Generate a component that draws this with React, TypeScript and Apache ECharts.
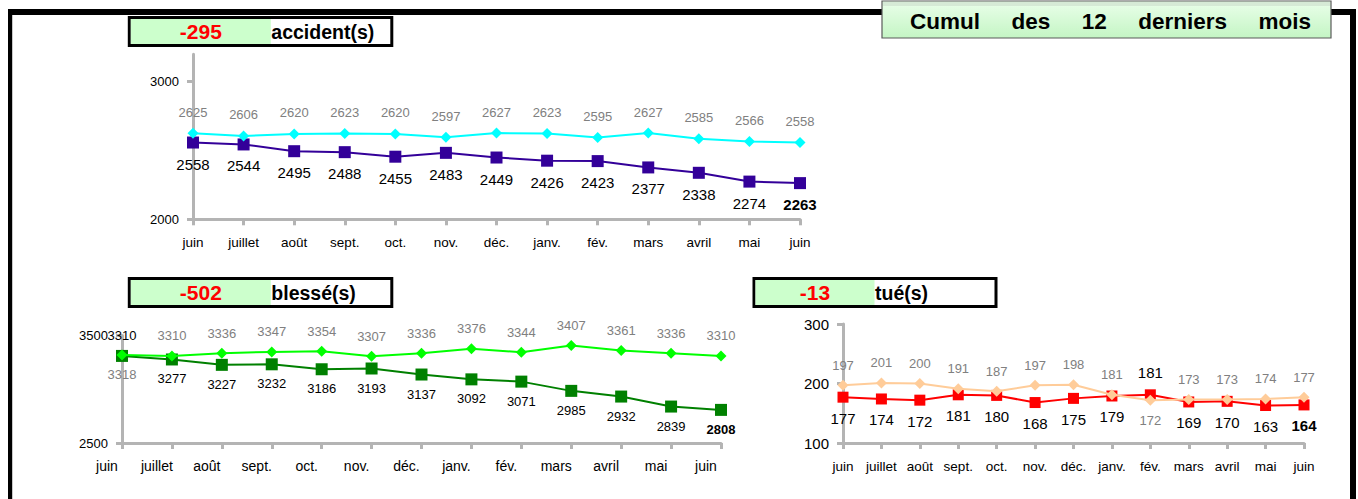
import React, { useEffect, useRef } from 'react';
import * as echarts from 'echarts';

const months = ['juin', 'juillet', 'août', 'sept.', 'oct.', 'nov.', 'déc.', 'janv.', 'fév.', 'mars', 'avril', 'mai', 'juin'];

const accidentsCurrent = [2558, 2544, 2495, 2488, 2455, 2483, 2449, 2426, 2423, 2377, 2338, 2274, 2263];
const accidentsPrior = [2625, 2606, 2620, 2623, 2620, 2597, 2627, 2623, 2595, 2627, 2585, 2566, 2558];

const blessesCurrent = [3310, 3277, 3227, 3232, 3186, 3193, 3137, 3092, 3071, 2985, 2932, 2839, 2808];
const blessesPrior = [3318, 3310, 3336, 3347, 3354, 3307, 3336, 3376, 3344, 3407, 3361, 3336, 3310];

const tuesCurrent = [177, 174, 172, 181, 180, 168, 175, 179, 181, 169, 170, 163, 164];
const tuesPrior = [197, 201, 200, 191, 187, 197, 198, 181, 172, 173, 173, 174, 177];

const accidentTicks = [2000, 3000];
const blesseTicks = [2500, 3500];
const tueTicks = [100, 200, 300];

const titleWords = ['Cumul', 'des', '12', 'derniers', 'mois'];
const accidentUnit = 'accident(s)';
const blesseUnit = 'blessé(s)';
const tueUnit = 'tué(s)';

const FONT = '"Liberation Sans", Arial, Helvetica, sans-serif';
const AXIS_GRAY = '#b4b4b4';
const LABEL_GRAY = '#808080';

function measure(text: string, font: string): number {
  const c = document.createElement('canvas');
  const ctx = c.getContext('2d');
  if (!ctx) return text.length * 12;
  ctx.font = font;
  return ctx.measureText(text).width;
}

function makeXAxis(gridIndex: number, fontSize: number, padRight: number) {
  return {
    type: 'category',
    gridIndex,
    data: months,
    boundaryGap: false,
    axisLine: { show: true, onZero: false, lineStyle: { color: AXIS_GRAY, width: 3 } },
    axisTick: { show: true, length: 6, lineStyle: { color: AXIS_GRAY, width: 3 } },
    axisLabel: {
      interval: 0,
      color: '#000',
      fontSize,
      fontFamily: FONT,
      margin: 16,
      padding: [0, padRight, 0, 0],
    },
    splitLine: { show: false },
  };
}

function makeYAxis(gridIndex: number, min: number, max: number, ticks: number[], fontSize: number) {
  return {
    type: 'value',
    gridIndex,
    min,
    max,
    axisLine: { show: true, onZero: false, lineStyle: { color: AXIS_GRAY, width: 3 } },
    axisTick: { show: true, length: 6, customValues: ticks, lineStyle: { color: AXIS_GRAY, width: 3 } },
    axisLabel: {
      color: '#000',
      fontSize,
      fontFamily: FONT,
      margin: 14,
      customValues: ticks,
      formatter: (v: number) => String(v),
    },
    splitLine: { show: false },
  };
}

function headerBox(x: number, y: number, w: number, greenW: number, delta: number, unit: string) {
  return [
    { type: 'rect', shape: { x, y, width: w, height: 28 }, style: { fill: '#ffffff', stroke: '#000', lineWidth: 3 }, z: 10 },
    { type: 'rect', shape: { x: x + 1.5, y: y + 1.5, width: greenW, height: 25 }, style: { fill: '#ccffcc' }, z: 11 },
    {
      type: 'text', x: x + 1.5 + greenW / 2, y: y + 14, z: 12,
      style: { text: String(delta), fill: '#ff0000', font: `bold 21px ${FONT}`, textAlign: 'center', textVerticalAlign: 'middle' },
    },
    {
      type: 'text', x: x + 2 + greenW, y: y + 14, z: 12,
      style: { text: unit, fill: '#000', font: `bold 19.5px ${FONT}`, textAlign: 'left', textVerticalAlign: 'middle' },
    },
  ];
}

function App() {
  const ref = useRef<HTMLDivElement>(null);

  useEffect(() => {
    if (!ref.current) return;
    const chart = echarts.init(ref.current, null, { renderer: 'svg' });
    const last = months.length - 1;

    const accCur = accidentsCurrent.map((v, i) => (i === last ? { value: v, label: { fontWeight: 'bold' } } : v));
    const blCur = blessesCurrent.map((v, i) => {
      if (i === 0) return { value: v, label: { position: 'top', distance: 8 } };
      if (i === last) return { value: v, label: { fontWeight: 'bold' } };
      return v;
    });
    const blPrior = blessesPrior.map((v, i) => (i === 0 ? { value: v, label: { position: 'bottom', distance: 7 } } : v));
    const tuCur = tuesCurrent.map((v, i) => {
      if (i === 8) return { value: v, label: { position: 'top', distance: 9 } };
      if (i === last) return { value: v, label: { fontWeight: 'bold' } };
      return v;
    });
    const tuPrior = tuesPrior.map((v, i) => (i === 8 ? { value: v, label: { position: 'bottom', distance: 8 } } : v));

    // Title words justified across the title box
    const titleFont = `bold 22.5px ${FONT}`;
    const tStart = 910;
    const tEnd = 1311;
    const widths = titleWords.map((w) => measure(w, titleFont));
    const gap = (tEnd - tStart - widths.reduce((a, b) => a + b, 0)) / (titleWords.length - 1);
    let cx = tStart;
    const titleTexts = titleWords.map((w, i) => {
      const el = {
        type: 'text', x: cx, y: 21, z: 22,
        style: { text: w, fill: '#000', font: titleFont, textAlign: 'left', textVerticalAlign: 'middle' },
      };
      cx += widths[i] + gap;
      return el;
    });

    const lineSeries = (
      name: string, data: any[], idx: number, color: string, symbol: string, size: number,
      labelPos: string, labelColor: string, fontSize: number, distance: number, z: number,
    ) => ({
      type: 'line',
      name,
      xAxisIndex: idx,
      yAxisIndex: idx,
      data,
      symbol,
      symbolSize: size,
      showAllSymbol: true,
      itemStyle: { color, borderWidth: 0 },
      lineStyle: { color, width: 2 },
      z,
      label: {
        show: true,
        position: labelPos,
        distance,
        color: labelColor,
        fontSize,
        fontFamily: FONT,
      },
      emphasis: { disabled: true },
    });

    const option: any = {
      animation: false,
      backgroundColor: '#ffffff',
      textStyle: { fontFamily: FONT },
      grid: [
        { left: 193, top: 54.2, width: 607, height: 165.1 },
        { left: 122, top: 335.5, width: 599, height: 107.5 },
        { left: 843, top: 324, width: 461, height: 119 },
      ],
      xAxis: [makeXAxis(0, 13.5, 0), makeXAxis(1, 14, 30), makeXAxis(2, 13.5, 0)],
      yAxis: [
        makeYAxis(0, 2000, 3200, accidentTicks, 13),
        makeYAxis(1, 2500, 3500, blesseTicks, 13),
        makeYAxis(2, 100, 300, tueTicks, 15),
      ],
      series: [
        lineSeries('accidents', accCur, 0, '#330099', 'rect', 12, 'bottom', '#000', 15, 8, 2),
        lineSeries('accidents N-1', accidentsPrior, 0, '#00ffff', 'diamond', 11, 'top', LABEL_GRAY, 13, 9, 3),
        lineSeries('blessés', blCur, 1, '#008000', 'rect', 12, 'bottom', '#000', 13, 7, 2),
        lineSeries('blessés N-1', blPrior, 1, '#00ff00', 'diamond', 11, 'top', LABEL_GRAY, 13, 8, 3),
        lineSeries('tués', tuCur, 2, '#ff0000', 'rect', 11, 'bottom', '#000', 15, 8, 2),
        lineSeries('tués N-1', tuPrior, 2, '#ffcc99', 'diamond', 11, 'top', LABEL_GRAY, 13, 8, 3),
      ],
      graphic: [
        // outer frame
        { type: 'rect', shape: { x: 8, y: 9, width: 1348, height: 6 }, style: { fill: '#000' }, z: 5 },
        { type: 'rect', shape: { x: 8, y: 9, width: 4, height: 500 }, style: { fill: '#000' }, z: 5 },
        { type: 'rect', shape: { x: 12, y: 15, width: 1, height: 500 }, style: { fill: '#c8c8c8' }, z: 5 },
        { type: 'rect', shape: { x: 1350, y: 9, width: 6, height: 500 }, style: { fill: '#000' }, z: 5 },
        // title box
        {
          type: 'rect', shape: { x: 882, y: 1, width: 449, height: 37 }, z: 20,
          style: {
            fill: new echarts.graphic.LinearGradient(0, 0, 0, 1, [
              { offset: 0, color: '#eaffea' },
              { offset: 1, color: '#c4f5c4' },
            ]),
            stroke: '#5a5a5a',
            lineWidth: 1.2,
          },
        },
        { type: 'rect', shape: { x: 883, y: 2, width: 447, height: 4 }, style: { fill: '#d6ead6' }, z: 21 },
        ...titleTexts,
        ...headerBox(129.3, 17.6, 262.5, 140, accidentsCurrent[last] - accidentsCurrent[0], accidentUnit),
        ...headerBox(129.3, 278.6, 262.5, 140, blessesCurrent[last] - blessesCurrent[0], blesseUnit),
        ...headerBox(754, 278.6, 242, 119, tuesCurrent[last] - tuesCurrent[0], tueUnit),
      ],
    };

    chart.setOption(option);
    return () => {
      chart.dispose();
    };
  }, []);

  return (
    <div
      ref={ref}
      style={{ position: 'fixed', left: 0, top: 0, width: 1358, height: 499, background: '#fff' }}
    />
  );
}

export default App;
